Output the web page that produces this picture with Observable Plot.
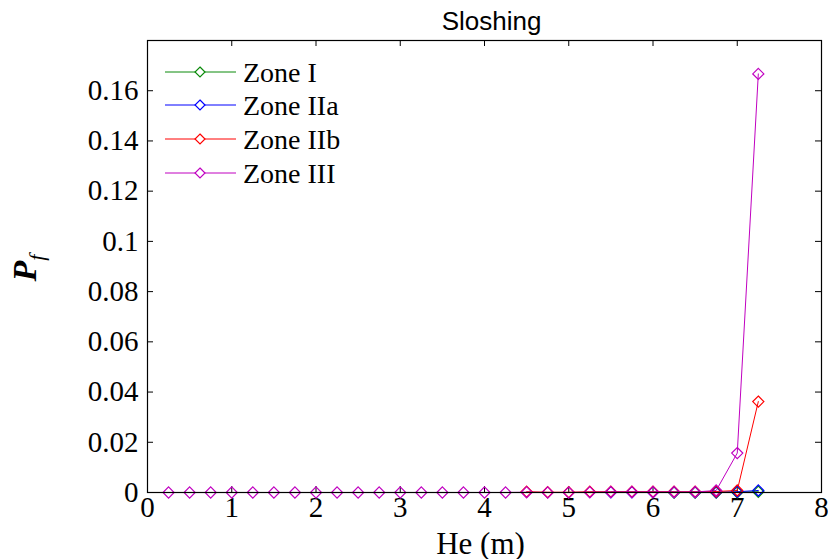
<!DOCTYPE html>
<html>
<head>
<meta charset="utf-8">
<script src="https://cdn.jsdelivr.net/npm/d3@7"></script>
<script src="https://cdn.jsdelivr.net/npm/@observablehq/plot@0.6"></script>
<style>
  body { margin: 0; background: white; }
  #wrap { position: relative; width: 828px; height: 559px; }
  #legend { position: absolute; left: 0; top: 0; pointer-events: none; }
</style>
</head>
<body>
<div id="wrap"></div>
<script>
// ---- data ----
const he = [0.25,0.5,0.75,1,1.25,1.5,1.75,2,2.25,2.5,2.75,3,3.25,3.5,3.75,4,4.25,4.5,4.75,5,5.25,5.5,5.75,6,6.25,6.5,6.75,7,7.25];
const zoneI   = [null,null,null,null,null,null,null,null,null,null,null,null,null,null,null,null,null,null,null,null,null,null,null,null,0,0,0,0.0001,0.0003];
const zoneIIa = [null,null,null,null,null,null,null,null,null,null,null,null,null,null,null,null,null,null,null,null,null,0.0001,0.0001,0.0001,0.0001,0.0001,0.0001,0.0003,0.0008];
const zoneIIb = [null,null,null,null,null,null,null,null,null,null,null,null,null,null,null,null,null,0.0003,0.0001,0.0001,0.0003,0.0003,0.0003,0.0003,0.0003,0.0003,0.0004,0.0008,0.0362];
const zoneIII = [0,0,0,0,0,0,0,0,0,0,0,0,0,0,0,0,0,0.0001,0,0,0.0001,0.0002,0.0002,0.0002,0.0002,0.0002,0.0008,0.0157,0.1667];
const zoneNames = ["Zone I","Zone IIa","Zone IIb","Zone III"];
const zoneColors = ["#0a8a0a","#0000ff","#ff0000","#c000c0"];
const xTicks = [0,1,2,3,4,5,6,7,8];
const yTicks = [0,0.02,0.04,0.06,0.08,0.1,0.12,0.14,0.16];
const yTickLabels = ["0","0.02","0.04","0.06","0.08","0.1","0.12","0.14","0.16"];

const seriesVals = [zoneI, zoneIIa, zoneIIb, zoneIII];
const rows = [];
seriesVals.forEach((vals, s) => {
  vals.forEach((v, i) => rows.push({zone: zoneNames[s], he: he[i], pf: v}));
});

const W = 828, H = 559;
const serif = "Liberation Serif, Times New Roman, serif";
const sans = "Liberation Sans, Arial, sans-serif";

const chart = Plot.plot({
  width: W, height: H,
  marginLeft: 147, marginRight: 7, marginTop: 40, marginBottom: 67,
  style: {fontFamily: serif, fontSize: "29px", background: "white", overflow: "visible"},
  x: {domain: [0, 8], label: null},
  y: {domain: [0, 0.18], label: null},
  color: {domain: zoneNames, range: zoneColors},
  marks: [
    Plot.axisX({ticks: xTicks, tickFormat: d => String(d), tickSize: 0, tickPadding: 4, fontSize: 29, fontFamily: serif, label: null}),
    Plot.axisY({ticks: yTicks, tickFormat: d => yTickLabels[yTicks.indexOf(d)], tickSize: 0, tickPadding: 9, fontSize: 29, fontFamily: serif, label: null}),
    Plot.tickX(xTicks, {x: d => d, insetTop: 446, stroke: "black", strokeWidth: 1}),
    Plot.tickX(xTicks, {x: d => d, insetBottom: 446, stroke: "black", strokeWidth: 1}),
    Plot.tickY(yTicks, {y: d => d, insetRight: 668, stroke: "black", strokeWidth: 1}),
    Plot.tickY(yTicks, {y: d => d, insetLeft: 668, stroke: "black", strokeWidth: 1}),
    Plot.line(rows, {x: "he", y: "pf", z: "zone", stroke: "zone", strokeWidth: 1}),
    Plot.dot(rows.filter(d => d.pf != null), {x: "he", y: "pf", stroke: "zone", symbol: "diamond2", r: 5, strokeWidth: 1.2, fill: "none"}),
    Plot.frame({stroke: "black", strokeWidth: 1.2}),
    Plot.text(["Sloshing"], {frameAnchor: "top", dx: 7, dy: -11, lineAnchor: "bottom", fontFamily: sans, fontSize: 26, fill: "black"}),
    Plot.text(["He (m)"], {frameAnchor: "bottom", dx: -4, dy: 61, lineAnchor: "bottom", fontFamily: serif, fontSize: 31, fill: "black"})
  ]
});

const wrap = document.getElementById("wrap");
wrap.appendChild(chart);

// y label P_f
const svg = d3.select(chart);
const yl = svg.append("text")
  .attr("transform", "translate(36,268) rotate(-90)")
  .attr("font-family", serif)
  .attr("font-size", 34)
  .attr("font-style", "italic")
  .attr("font-weight", "bold")
  .attr("fill", "black");
yl.append("tspan").text("P");
yl.append("tspan").attr("dy", 8).attr("font-size", 22).attr("font-weight", "normal").text("f");

// legend overlay
const leg = d3.select(wrap).append("svg")
  .attr("id", "legend").attr("width", W).attr("height", H);
const legY = [72, 105, 139, 173];
zoneNames.forEach((name, i) => {
  const g = leg.append("g");
  g.append("line").attr("x1", 165).attr("x2", 236).attr("y1", legY[i]).attr("y2", legY[i])
    .attr("stroke", zoneColors[i]).attr("stroke-width", 1);
  g.append("path").attr("d", d3.symbol(d3.symbolDiamond2, 64)())
    .attr("transform", `translate(200,${legY[i]})`)
    .attr("fill", "white").attr("stroke", zoneColors[i]).attr("stroke-width", 1.2);
  g.append("text").attr("x", 243).attr("y", legY[i]).attr("dy", "0.34em")
    .attr("font-family", serif).attr("font-size", 28).attr("fill", "black").text(name);
});
</script>
</body>
</html>
